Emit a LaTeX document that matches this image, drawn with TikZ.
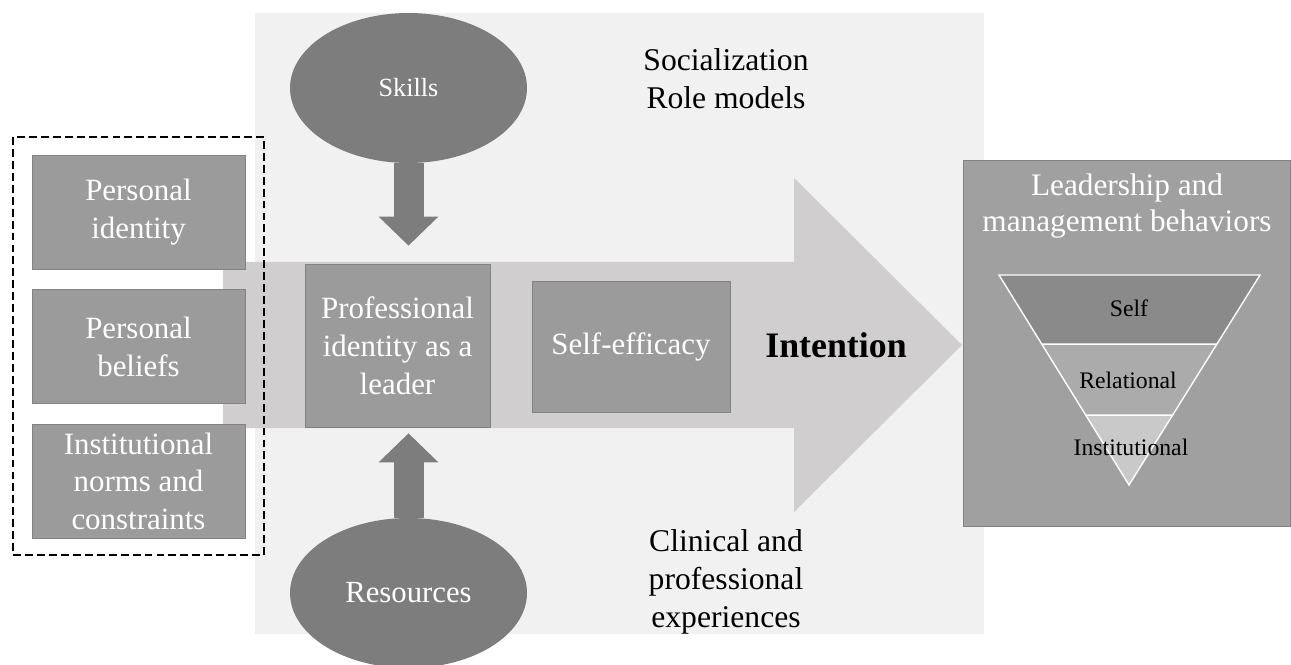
\documentclass[tikz,border=0pt]{standalone}
\usepackage{fontspec}
\setmainfont{Liberation Serif}
\usetikzlibrary{arrows.meta, positioning, calc, shapes.geometric}
\definecolor{PanelGrey}{RGB}{241, 241, 241}
\definecolor{FlowGrey}{RGB}{208, 206, 206}
\definecolor{BoxGrey}{RGB}{155, 155, 155}
\definecolor{BoxEdge}{RGB}{130, 130, 130}
\definecolor{BlobGrey}{RGB}{125, 125, 125}
\definecolor{OuterGrey}{RGB}{160, 160, 160}
\definecolor{TierDark}{RGB}{138, 138, 138}
\definecolor{TierMid}{RGB}{171, 171, 171}
\definecolor{TierLight}{RGB}{201, 201, 201}

\begin{document}
\begin{tikzpicture}[x=0.02cm, y=-0.02cm,
    factor/.style={draw=BoxEdge, fill=BoxGrey, text=white, align=center,
      minimum width=4.26cm, minimum height=2.28cm, font=\fontsize{17.6}{21.5}\selectfont},
    blob/.style={ellipse, fill=BlobGrey, text=white, minimum width=4.74cm, minimum height=3cm},
    push/.style={draw=BlobGrey, line width=0.6cm, -{Triangle[width=1.16cm, length=0.58cm]}},
    note/.style={align=center, font=\fontsize{18}{21.5}\selectfont},
    tier/.style={font=\fontsize{13.5}{16}\selectfont}]
    \useasboundingbox (0,0) rectangle (1291,665);
    % panel and the main flow arrow
    \fill[PanelGrey] (255,13) rectangle (984,634);
    \fill[FlowGrey] (223,262) -- (794,262) -- (794,178) -- (962,345)
        -- (794,512) -- (794,428) -- (223,428) -- cycle;

    % antecedents on the left
    \node[factor] (pid) at (138.5,212) {Personal\\identity};
    \node[factor, below=0.4cm of pid] (pbel) {Personal\\beliefs};
    \node[factor, below=0.4cm of pbel] (inst) {Institutional\\norms and\\constraints};
    \draw[line width=1.5pt, dash pattern=on 4.5pt off 2.3pt] (13,137) rectangle (264,555);

    % inputs
    \node[blob, font=\fontsize{14.9}{18}\selectfont] (skills) at (408.5,88) {Skills};
    \node[blob, font=\fontsize{17.5}{21}\selectfont] (res) at (408.5,593) {Resources};

    \node[factor, minimum width=3.7cm, minimum height=3.26cm] (prof) at (397.5,345.5)
        {Professional\\identity as a\\leader};
    \node[factor, minimum width=3.96cm, minimum height=2.62cm] (eff) at (631,346.5) {Self-efficacy};
    \node[font=\bfseries\fontsize{20.4}{24}\selectfont] (int) at (836,345) {Intention};

    \draw[push, shorten >=0.36cm] (skills.south) -- (skills.south |- prof.north);
    \draw[push, shorten >=0.12cm] (res.north) -- (res.north |- prof.south);

    \node[note] (soc) at (726,79) {Socialization\\Role models};
    \node[note] (clin) at (726,582) {Clinical and\\professional\\experiences};

    % outcome box with the tiers
    \node[draw=BoxEdge, fill=OuterGrey, minimum width=6.54cm, minimum height=7.32cm] (lead) at (1126.5,343) {};
    \node[note, text=white, font=\fontsize{17.8}{21}\selectfont] (leadt) at (1127,206)
        {Leadership and\\management behaviors};
    \coordinate (tl) at (999,275);
    \coordinate (tr) at (1260,275);
    \coordinate (tip) at (1129,485);
    \fill[TierDark] (tl) -- (tr) -- ($(tr)!0.329!(tip)$) -- ($(tl)!0.329!(tip)$) -- cycle;
    \fill[TierMid] ($(tl)!0.329!(tip)$) -- ($(tr)!0.329!(tip)$) -- ($(tr)!0.667!(tip)$) -- ($(tl)!0.667!(tip)$) -- cycle;
    \fill[TierLight] ($(tl)!0.667!(tip)$) -- ($(tr)!0.667!(tip)$) -- (tip) -- cycle;
    \draw[white, line width=0.8pt] (tl) -- (tr) -- (tip) -- cycle
        ($(tl)!0.329!(tip)$) -- ($(tr)!0.329!(tip)$)
        ($(tl)!0.667!(tip)$) -- ($(tr)!0.667!(tip)$);
    \node[tier] (tself) at (1129,308) {Self};
    \node[tier] (trel) at (1128,380) {Relational};
    \node[tier] (tinst) at (1131,447) {Institutional};
\end{tikzpicture}
\end{document}
